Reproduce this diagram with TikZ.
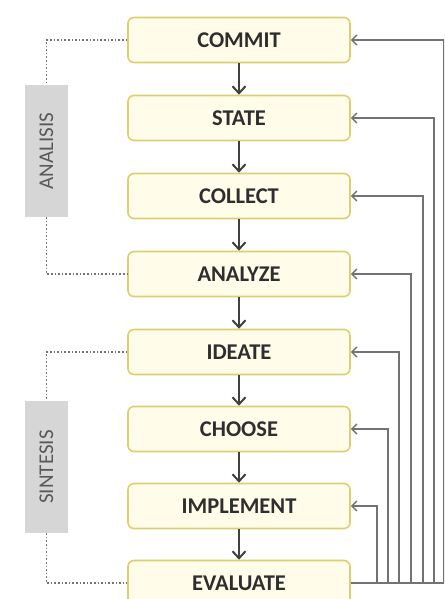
\documentclass[tikz,border=0pt]{standalone}
\usepackage{fontspec}
\setmainfont{Carlito}
\usetikzlibrary{arrows.meta}

\definecolor{boxfill}{HTML}{FFFDEA}
\definecolor{boxline}{HTML}{DCCF70}
\definecolor{textgray}{HTML}{2E2E2E}
\definecolor{phasefill}{HTML}{D6D6D6}

\begin{document}
\begin{tikzpicture}[x=1pt, y=-1pt,
    stage/.style={draw=boxline, line width=1.6pt, fill=boxfill, rounded corners=6pt,
        minimum width=222pt, minimum height=45pt, text=textgray,
        font=\fontsize{22.5}{26}\selectfont\bfseries},
    phase/.style={fill=phasefill, rotate=90, minimum width=132pt, minimum height=43pt,
        text=black!65, font=\fontsize{21}{25}\selectfont},
    flow/.style={-{Straight Barb[length=7pt, width=13pt]}, line width=2pt, black!75},
    back/.style={-{Straight Barb[length=5pt, width=10pt]}, line width=1.5pt, black!55},
    link/.style={dotted, line width=1.6pt, black!55}]

    \fill[white] (0,0) rectangle (444,599);
    \clip (0,0) rectangle (444,599);

    % Stages
    \foreach \name/\label/\y in {commit/COMMIT/40, state/STATE/118, collect/COLLECT/196,
        analyze/ANALYZE/274, ideate/IDEATE/352, choose/CHOOSE/429,
        implement/IMPLEMENT/506, evaluate/EVALUATE/583} {
        \node[stage] (\name) at (239, \y) {\label};
    }

    % Main flow
    \foreach \a/\b in {commit/state, state/collect, collect/analyze, analyze/ideate,
        ideate/choose, choose/implement, implement/evaluate} {
        \draw[flow] (\a) -- (\b);
    }

    % Feedback from evaluate
    \foreach \name/\dx in {implement/26, choose/37, ideate/48, analyze/60,
        collect/72, state/83, commit/93} {
        \draw[back] (evaluate.east) -- ++(\dx,0) |- (\name.east);
    }

    % Phases
    \node[phase] (analisis) at (46.5, 151) {ANALISIS};
    \node[phase] (sintesis) at (46.5, 467) {SINTESIS};

    \draw[link] (commit.west) -| (analisis.east);
    \draw[link] (analisis.west) |- (analyze.west);
    \draw[link] (ideate.west) -| (sintesis.east);
    \draw[link] (sintesis.west) |- (evaluate.west);
\end{tikzpicture}
\end{document}
